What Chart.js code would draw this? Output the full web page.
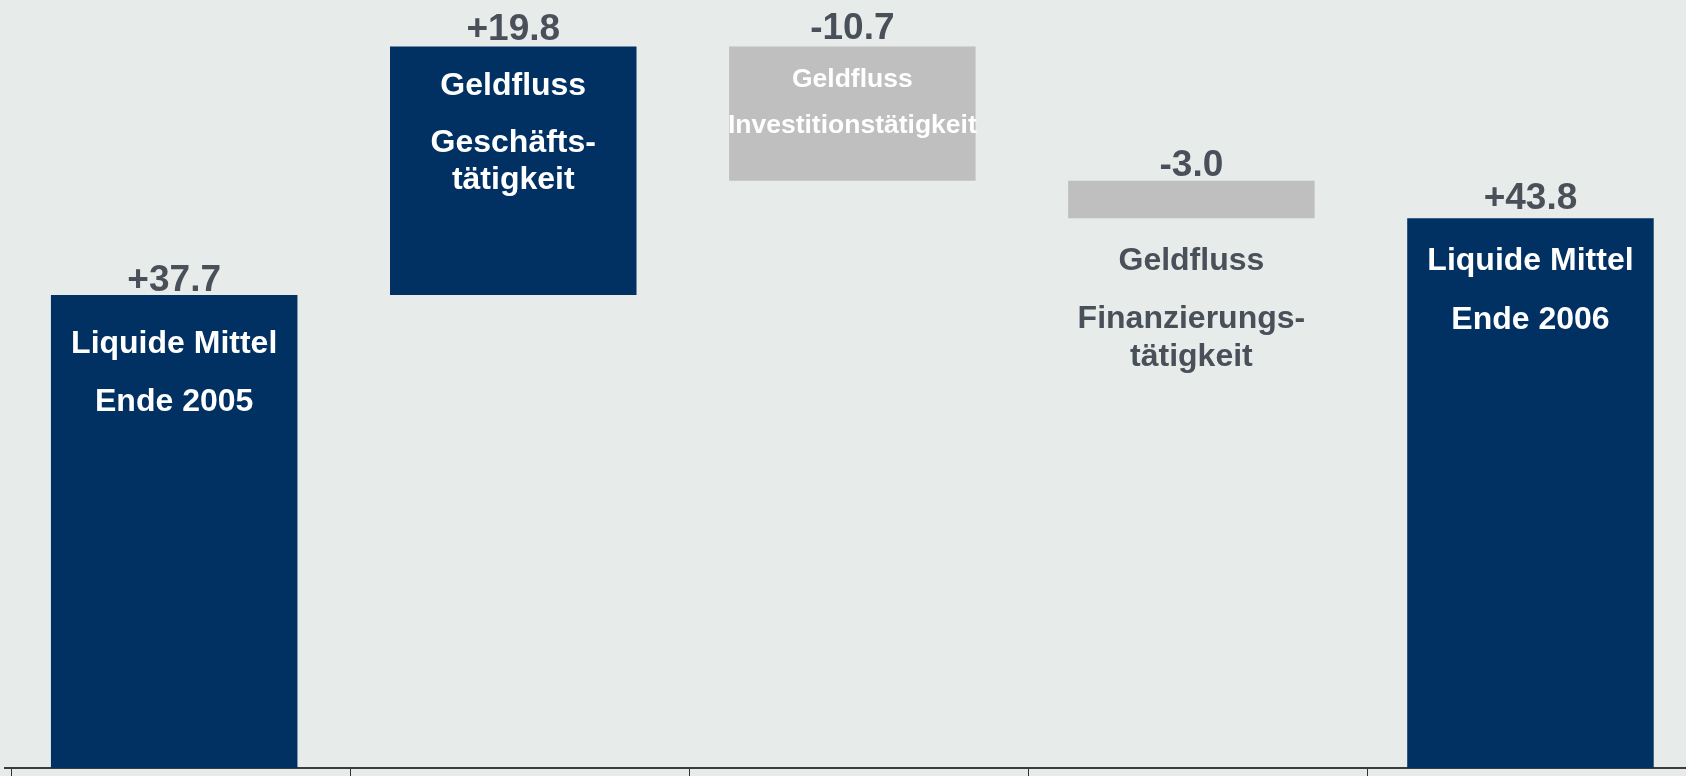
<!DOCTYPE html>
<html>
<head>
<meta charset="utf-8">
<script src="https://cdn.jsdelivr.net/npm/chart.js@4/dist/chart.umd.min.js"></script>
<style>
  html, body { margin: 0; padding: 0; background: #e7ebea; overflow: hidden; }
  #wrap { width: 1700px; height: 776px; position: relative; }
</style>
</head>
<body>
<div id="wrap"><canvas id="cash-chart"></canvas></div>
<script>
// waterfall data (Mio.)
const categories = ['Liquide Mittel Ende 2005', 'Geldfluss Geschäftstätigkeit', 'Geldfluss Investitionstätigkeit', 'Geldfluss Finanzierungstätigkeit', 'Liquide Mittel Ende 2006'];
const changes = [37.7, 19.8, -10.7, -3.0, 43.8];
const isTotal = [true, false, false, false, true];
const valueLabels = ['+37.7', '+19.8', '-10.7', '-3.0', '+43.8'];
const barTexts = [
	['Liquide Mittel', 'Ende 2005'],
	['Geldfluss', 'Geschäfts-', 'tätigkeit'],
	['Geldfluss', 'Investitionstätigkeit'],
	['Geldfluss', 'Finanzierungs-', 'tätigkeit'],
	['Liquide Mittel', 'Ende 2006'],
];
// axis tick marks (in category units, slightly off the bar gaps like the original slide)
const tickMarks = [-0.48, 0.52, 1.52, 2.52, 3.52];

const NAVY = '#003162';
const GREY = '#bfbfbf';
const LABEL = '#4a505a';
const FONT = '"Liberation Sans", Arial, sans-serif';

// floating bars from running total
let running = 0;
const floating = changes.map((v, i) => {
	if (isTotal[i]) {
		running = v;
		return [0, v];
	}
	const from = running;
	running += v;
	return [Math.min(from, running), Math.max(from, running)];
});
const colors = changes.map((v, i) => (isTotal[i] || v > 0) ? NAVY : GREY);

// text layout per bar
const textStyle = [
	{ anchor: 'top', color: '#fff', size: 32, valueOff: -14, offsets: [49, 107] },
	{ anchor: 'top', color: '#fff', size: 32, valueOff: -17, offsets: [40, 97, 134] },
	{ anchor: 'top', color: '#fff', size: 26.5, valueOff: -18, offsets: [33, 79] },
	{ anchor: 'bottom', color: LABEL, size: 32, valueOff: -15, offsets: [43, 101, 139] },
	{ anchor: 'top', color: '#fff', size: 32, valueOff: -20, offsets: [43, 102] },
];

const barLabels = {
	id: 'barLabels',
	afterDatasetsDraw(chart) {
		const c = chart.ctx;
		const meta = chart.getDatasetMeta(0);
		c.save();
		c.textAlign = 'center';
		c.textBaseline = 'middle';
		meta.data.forEach((bar, i) => {
			const top = Math.min(bar.y, bar.base);
			const bottom = Math.max(bar.y, bar.base);
			const st = textStyle[i];
			c.fillStyle = LABEL;
			c.font = `bold 37px ${FONT}`;
			c.fillText(valueLabels[i], bar.x, top + st.valueOff);

			const ref = st.anchor === 'top' ? top : bottom;
			c.fillStyle = st.color;
			c.font = `bold ${st.size}px ${FONT}`;
			barTexts[i].forEach((line, j) => {
				c.fillText(line, bar.x, ref + st.offsets[j]);
			});
		});
		c.restore();
	}
};

new Chart(document.getElementById('cash-chart'), {
	type: 'bar',
	data: {
		labels: categories,
		datasets: [{
			data: floating,
			backgroundColor: colors,
			borderWidth: 0,
			barPercentage: 0.727,
			categoryPercentage: 1,
		}],
	},
	options: {
		responsive: true,
		maintainAspectRatio: false,
		animation: false,
		layout: { padding: { left: 4.65, right: 0, top: 0, bottom: 0 } },
		plugins: {
			legend: { display: false },
			tooltip: { enabled: false },
		},
		scales: {
			x: {
				display: false,
			},
			xt: {
				type: 'linear',
				position: 'bottom',
				offset: false,
				bounds: 'data',
				min: -0.5,
				max: 4.5,
				afterBuildTicks: (axis) => {
					axis.ticks = tickMarks.map(v => ({ value: v }));
					axis.min = -0.5;
					axis.max = 4.5;
				},
				grid: {
					offset: false,
					drawOnChartArea: false,
					drawTicks: true,
					tickLength: 8,
					color: '#333',
					lineWidth: 1,
				},
				border: { display: true, color: '#3c3c3c', width: 2 },
				ticks: { display: false },
			},
			y: {
				display: false,
				min: 0,
				max: 61.2,
			},
		},
	},
	plugins: [barLabels],
});
</script>
</body>
</html>
